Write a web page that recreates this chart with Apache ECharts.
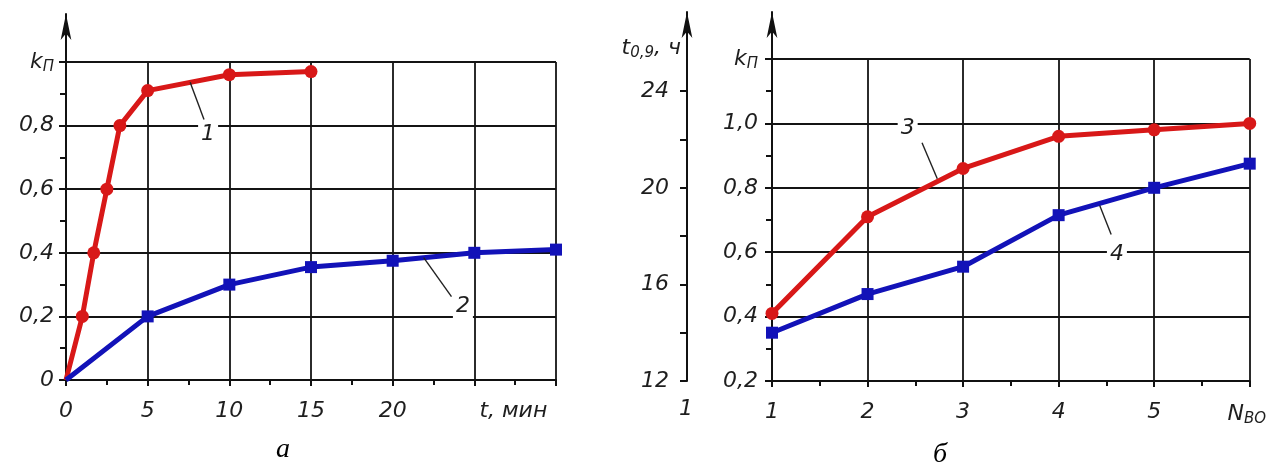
<!DOCTYPE html>
<html><head><meta charset="utf-8">
<script src="https://cdn.jsdelivr.net/npm/echarts@6/dist/echarts.min.js"></script>
<style>html,body{margin:0;padding:0;background:#fff}#c{width:1272px;height:468px}</style>
</head><body><div id="c"></div>
<script>
// ---- data ----
// chart a
const tA = [0, 1, 1.7, 2.5, 3.3, 5, 10, 15];          // series 1, t (min)
const k1 = [0, 0.2, 0.4, 0.6, 0.8, 0.91, 0.96, 0.97];
const tB = [0, 5, 10, 15, 20, 25, 30];                // series 2, t (min)
const k2 = [0, 0.2, 0.3, 0.355, 0.375, 0.4, 0.41];
const aXTicks = [0, 5, 10, 15, 20, 25, 30];
const aXLabels = ['0', '5', '10', '15', '20', 't, мин', ''];
// chart б
const nBO = [1, 2, 3, 4, 5, 6];
const k3 = [0.41, 0.71, 0.86, 0.96, 0.98, 1.0];
const k4 = [0.35, 0.47, 0.555, 0.715, 0.80, 0.875];
const bXLabels = ['1', '2', '3', '4', '5', 'N_BO'];
const tTicks = [12, 16, 20, 24];
const tMinor = [12, 14, 16, 18, 20, 22, 24];
// curve labels (data coords)
const ann1 = { text: '1', at: [8.7, 0.772], from: [7.6, 0.936], to: [8.45, 0.819] };
const ann2 = { text: '2', at: [24.3, 0.232], from: [21.9, 0.385], to: [23.6, 0.262] };
const ann3 = { text: '3', at: [2.42, 0.985], from: [2.57, 0.94], to: [2.73, 0.828] };
const ann4 = { text: '4', at: [4.61, 0.595], from: [4.43, 0.745], to: [4.55, 0.655] };

// ---- styles ----
const FONT = '"DejaVu Sans", "Liberation Sans", Arial, sans-serif';
const TXT = '#1e1e1e';
const RED = '#d81818', BLUE = '#1212b8';
const lab = { color: TXT, fontFamily: FONT, fontStyle: 'italic', fontSize: 22 };
const subRich = {
  k: { ...lab, fontSize: 22 },
  s: { ...lab, fontSize: 15, verticalAlign: 'bottom', padding: [11, 0, 0, 0] },
  pad: { width: 6 }
};
const axisLine = { show: true, lineStyle: { color: '#111', width: 2 } };
const split = { show: true, lineStyle: { color: '#141414', width: 1.8 } };
const fmtDec = v => (Math.abs(v) < 1e-9 ? '0' : v.toFixed(1).replace('.', ','));

function pairs(xs, ys) { return xs.map((x, i) => (i === 0 && x === 0 && ys[i] === 0) ? { value: [x, ys[i]], symbol: 'none' } : [x, ys[i]]); }
function annot(a) {
  return {
    markLine: { silent: true, symbol: ['none', 'none'], label: { show: false },
      lineStyle: { color: '#222', width: 1.4, type: 'solid' },
      data: [[{ coord: a.from }, { coord: a.to }]] },
    markPoint: { silent: true, symbol: 'rect', symbolSize: [1, 1], itemStyle: { color: 'rgba(0,0,0,0)' },
      label: { show: true, position: 'inside', formatter: a.text, ...lab, backgroundColor: '#fff', padding: [1, 3] },
      data: [{ coord: a.at }] }
  };
}

const chart = echarts.init(document.getElementById('c'), null, { renderer: 'canvas' });
chart.setOption({
  animation: false,
  backgroundColor: '#fff',
  grid: [
    { left: 66, top: 62, width: 490, height: 318 },   // a
    { left: 772, top: 59, width: 493, height: 322 },  // б
    { left: 66, top: 14, width: 10, height: 48 },     // arrow a
    { left: 687, top: 12, width: 85, height: 47 }     // arrows б
  ],
  xAxis: [
    { gridIndex: 0, type: 'value', min: 0, max: 30, interval: 5,
      axisLine, splitLine: split,
      axisTick: { show: true, inside: false, length: 6, lineStyle: { color: '#111', width: 2 } },
      minorTick: { show: true, splitNumber: 2, length: 5, lineStyle: { color: '#111', width: 2 } },
      axisLabel: { ...lab, margin: 20, rich: { ...subRich, pad: { width: 78 } },
        formatter: v => { const i = aXTicks.indexOf(v); const s = i >= 0 ? aXLabels[i] : '';
          return s.length > 3 ? '{pad|}{k|' + s + '}' : s; } } },
    { gridIndex: 1, type: 'value', min: 1, max: 6, interval: 1,
      axisLine, splitLine: split,
      axisTick: { show: true, length: 6, lineStyle: { color: '#111', width: 2 } },
      minorTick: { show: true, splitNumber: 2, length: 5, lineStyle: { color: '#111', width: 2 } },
      axisLabel: { ...lab, margin: 20, rich: subRich,
        formatter: v => { const s = bXLabels[v - 1] || ''; return s === 'N_BO' ? '{k|N}{s|BO}{pad|}' : s; } } },
    { gridIndex: 2, show: false, min: 0, max: 1 },
    { gridIndex: 3, show: false, min: 0, max: 1 }
  ],
  yAxis: [
    { gridIndex: 0, type: 'value', min: 0, max: 1, interval: 0.2,
      axisLine, splitLine: split,
      axisTick: { show: true, length: 7, lineStyle: { color: '#111', width: 2 } },
      minorTick: { show: true, splitNumber: 2, length: 6, lineStyle: { color: '#111', width: 2 } },
      axisLabel: { ...lab, margin: 12, rich: subRich,
        formatter: v => Math.abs(v - 1) < 1e-6 ? '{k|k}{s|П}' : fmtDec(v) } },
    { gridIndex: 1, type: 'value', min: 0.2, max: 1.2, interval: 0.2,
      axisLine, splitLine: split,
      axisTick: { show: true, length: 7, lineStyle: { color: '#111', width: 2 } },
      minorTick: { show: true, splitNumber: 2, length: 6, lineStyle: { color: '#111', width: 2 } },
      axisLabel: { ...lab, margin: 14, rich: subRich,
        formatter: v => Math.abs(v - 1.2) < 1e-6 ? '{k|k}{s|П}' : fmtDec(v) } },
    { gridIndex: 1, type: 'value', position: 'left', offset: 85, min: 12, max: 12 + 1.0 / 0.9 * 12, interval: 4,
      axisLine: { ...axisLine, onZero: false }, splitLine: { show: false },
      axisTick: { show: true, length: 7, customValues: tMinor, lineStyle: { color: '#111', width: 2 } },
      axisLabel: { ...lab, margin: 18, customValues: tTicks, formatter: v => String(Math.round(v)) },
      name: '{k|t}{s|0,9}{k|, ч}', nameLocation: 'end', nameGap: -2,
      nameTextStyle: { ...lab, align: 'right', padding: [0, 6, 0, 0], rich: subRich } },
    { gridIndex: 2, type: 'value', min: 0, max: 1,
      axisLine: { show: true, symbol: ['none', 'arrow'], symbolSize: [8, 26], lineStyle: { color: '#111', width: 2 } },
      axisTick: { show: false }, axisLabel: { show: false }, splitLine: { show: false } },
    { gridIndex: 3, type: 'value', position: 'left', min: 0, max: 1,
      axisLine: { show: true, symbol: ['none', 'arrow'], symbolSize: [8, 26], lineStyle: { color: '#111', width: 2 } },
      axisTick: { show: false }, axisLabel: { show: false }, splitLine: { show: false } },
    { gridIndex: 3, type: 'value', position: 'right', min: 0, max: 1,
      axisLine: { show: true, symbol: ['none', 'arrow'], symbolSize: [8, 26], lineStyle: { color: '#111', width: 2 } },
      axisTick: { show: false }, axisLabel: { show: false }, splitLine: { show: false } }
  ],
  series: [
    { type: 'line', xAxisIndex: 0, yAxisIndex: 0, data: pairs(tA, k1), symbol: 'circle', symbolSize: 13,
      lineStyle: { color: RED, width: 5 }, itemStyle: { color: RED }, z: 3, ...annot(ann1) },
    { type: 'line', xAxisIndex: 0, yAxisIndex: 0, data: pairs(tB, k2), symbol: 'rect', symbolSize: 12,
      lineStyle: { color: BLUE, width: 5 }, itemStyle: { color: BLUE }, z: 4, ...annot(ann2) },
    { type: 'line', xAxisIndex: 1, yAxisIndex: 1, data: pairs(nBO, k3), symbol: 'circle', symbolSize: 13,
      lineStyle: { color: RED, width: 5 }, itemStyle: { color: RED }, z: 3, ...annot(ann3) },
    { type: 'line', xAxisIndex: 1, yAxisIndex: 1, data: pairs(nBO, k4), symbol: 'rect', symbolSize: 12,
      lineStyle: { color: BLUE, width: 5 }, itemStyle: { color: BLUE }, z: 4, ...annot(ann4) }
  ],
  graphic: [
    { type: 'text', left: 276, top: 436, style: { text: 'а', font: 'italic 28px "Liberation Serif", "DejaVu Serif", serif', fill: '#000' } },
    { type: 'text', left: 933, top: 441, style: { text: 'б', font: 'italic 28px "Liberation Serif", "DejaVu Serif", serif', fill: '#000' } },
    { type: 'text', left: 679, top: 398, style: { text: '1', font: 'italic 22px ' + FONT, fill: TXT } }
  ]
});
</script>
</body></html>
